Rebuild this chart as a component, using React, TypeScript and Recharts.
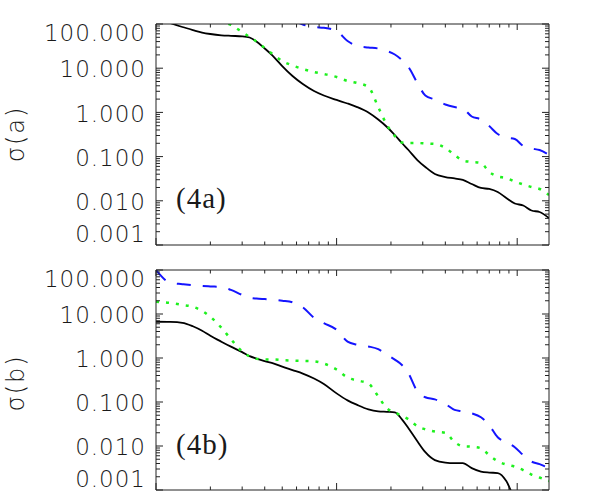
import { LineChart, Line, XAxis, YAxis } from "recharts";

// sample positions along the (log) x axis
const X = [
  1, 1.2, 1.4, 1.6, 1.8, 2, 2.3, 2.6, 3, 3.3, 3.6, 4, 4.5, 5, 5.7, 6.5, 7.5, 8.5,
  10, 11.5, 13, 15, 17, 19, 21, 23, 25, 28, 31, 35, 40, 45, 50, 56, 63, 70, 78,
  87, 97, 108, 120, 133, 150,
];

// panel (4a)
const A_BLACK = [
  137, 105, 85.5, 73, 64, 59.4, 55.5, 54, 52.7, 49.5, 40.2, 27.9, 17.9, 11.2,
  6.66, 4.39, 3.05, 2.41, 1.91, 1.59, 1.32, 0.995, 0.69, 0.468, 0.308, 0.203,
  0.141, 0.0837, 0.0582, 0.0404, 0.0345, 0.032, 0.0296, 0.024, 0.0195, 0.0185,
  0.0158, 0.0116, 0.0087, 0.00783, 0.00603, 0.00558, 0.00408,
];
const A_GREEN = [
  587, 408, 298, 230, 187, 152, 117, 94.9, 65.9, 50.8, 40.2, 28.6, 19.9, 14.6,
  11.5, 9.59, 8.2, 7.39, 6.32, 5.13, 4.62, 3.76, 1.32, 0.519, 0.292, 0.208,
  0.203, 0.203, 0.198, 0.193, 0.157, 0.109, 0.0816, 0.0755, 0.0716, 0.0449,
  0.0355, 0.0328, 0.0273, 0.0234, 0.0205, 0.0185, 0.0135,
];
const A_BLUE = [
  null, null, null, null, null, null, null, null, null, null, null, null, null,
  null, 123, 97.5, 85.5, 82, 69.5, 41.2, 31.8, 29.4, 27.9, 24.5, 20.4, 15.3,
  10.6, 4.62, 2.41, 1.96, 1.51, 1.32, 1.22, 0.807, 0.69, 0.492, 0.324, 0.27,
  0.25, 0.174, 0.152, 0.141, 0.109,
];

// panel (4b)
const B_BLACK = [
  6.67, 6.6, 6.32, 5.27, 4.17, 3.21, 2.35, 1.81, 1.36, 1.1, 0.969, 0.851, 0.747,
  0.638, 0.532, 0.443, 0.342, 0.257, 0.157, 0.109, 0.0859, 0.068, 0.0612,
  0.0597, 0.0582, 0.0404, 0.0253, 0.0128, 0.00724, 0.00478, 0.00419, 0.00408,
  0.00408, 0.00315, 0.00262, 0.00249, 0.00243, 0.0016, 0.0006, 0.0003, 0.00015,
  0.0001, 0.00007,
];
const B_GREEN = [
  18.9, 17.9, 16.1, 14.6, 11.8, 8.64, 4.88, 2.68, 1.4, 1.08, 0.955, 0.93, 0.925,
  0.896, 0.873, 0.859, 0.837, 0.747, 0.547, 0.36, 0.308, 0.264, 0.134, 0.0716,
  0.0582, 0.0485, 0.0404, 0.0281, 0.024, 0.0213, 0.02, 0.0122, 0.00989,
  0.00964, 0.0089, 0.0062, 0.00453, 0.00378, 0.0034, 0.00283, 0.00224,
  0.00192, 0.0016,
];
const B_BLUE = [
  100, 51.3, 47.7, 45.1, 43.5, 42.4, 41.2, 35.3, 27.2, 23.5, 22.4, 21.8, 21.2,
  20.1, 18.4, 14.2, 8.2, 6.17, 4.39, 2.35, 2.01, 1.83, 1.59, 1.19, 0.92, 0.691,
  0.444, 0.174, 0.128, 0.115, 0.0906, 0.0662, 0.0612, 0.0552, 0.0449, 0.0296,
  0.0158, 0.0122, 0.0094, 0.0062, 0.00442, 0.00387, 0.00315,
];

const Y_MAJOR = [0.001, 0.01, 0.1, 1, 10, 100];
const Y_LABELS = ["0.001", "0.010", "0.100", "1.000", "10.000", "100.000"];
const X_MAJOR = [1, 10, 100];
const MINOR = [2, 3, 4, 5, 6, 7, 8, 9];

const Y_TICKS = Y_MAJOR.flatMap((d, i) =>
  i === Y_MAJOR.length - 1 ? [d] : [d, ...MINOR.map((m) => m * d)]
);
const X_TICKS = X_MAJOR.flatMap((d) => [d, ...MINOR.map((m) => m * d)]).filter(
  (v) => v <= 150
);

const AXIS = "#222";
const TEXT = "#1a1a1a";
const isMajor = (list: number[], v: number) =>
  list.findIndex((m) => Math.abs(m - v) / m < 1e-6);

function LeftTick({ x, y, payload }: any) {
  const i = isMajor(Y_MAJOR, payload.value);
  // end labels sit inside the frame, like the original
  const dy = i === Y_MAJOR.length - 1 ? 9 : i === 0 ? -11 : 1;
  return (
    <g>
      <line x1={x} x2={x + (i >= 0 ? 7 : 4)} y1={y} y2={y} stroke={AXIS} />
      {i >= 0 && (
        <text
          x={x - 10}
          y={y + dy}
          dy="0.36em"
          textAnchor="end"
          fontFamily="DejaVu Sans"
          fontWeight={300}
          fontSize={23}
          letterSpacing={1}
          fill={TEXT}
        >
          {Y_LABELS[i]}
        </text>
      )}
    </g>
  );
}

function RightTick({ x, y, payload }: any) {
  const i = isMajor(Y_MAJOR, payload.value);
  return <line x1={x} x2={x - (i >= 0 ? 7 : 4)} y1={y} y2={y} stroke={AXIS} />;
}

function TopTick({ x, y, payload }: any) {
  const i = isMajor(X_MAJOR, payload.value);
  return <line x1={x} x2={x} y1={y} y2={y + (i >= 0 ? 6 : 3.5)} stroke={AXIS} />;
}

function BottomTick({ x, y, payload }: any) {
  const i = isMajor(X_MAJOR, payload.value);
  return <line x1={x} x2={x} y1={y} y2={y - (i >= 0 ? 7 : 3.5)} stroke={AXIS} />;
}

function Panel({ black, green, blue, height, bottom }: any) {
  const rows = X.map((x, i) => ({ x, black: black[i], green: green[i], blue: blue[i] }));
  const xProps = {
    dataKey: "x",
    type: "number" as const,
    scale: "log" as const,
    domain: [1, 150],
    allowDataOverflow: true,
    ticks: X_TICKS,
    interval: 0,
    height: 1,
    tickSize: 0,
    tickMargin: 0,
    tickLine: false,
    axisLine: { stroke: AXIS },
  };
  const yProps = {
    type: "number" as const,
    scale: "log" as const,
    domain: [0.001, 100],
    allowDataOverflow: true,
    ticks: Y_TICKS,
    interval: 0,
    width: 1,
    tickSize: 0,
    tickMargin: 0,
    tickLine: false,
    axisLine: { stroke: AXIS },
  };
  return (
    <LineChart
      width={596}
      height={height}
      data={rows}
      margin={{ top: 23, right: 46, bottom, left: 155 }}
    >
      <XAxis xAxisId="b" orientation="bottom" {...xProps} tick={<BottomTick />} />
      <XAxis xAxisId="t" orientation="top" {...xProps} tick={<TopTick />} />
      <YAxis yAxisId="l" orientation="left" {...yProps} tick={<LeftTick />} />
      <YAxis yAxisId="r" orientation="right" {...yProps} tick={<RightTick />} />
      <Line
        xAxisId="b"
        yAxisId="l"
        dataKey="black"
        type="monotone"
        stroke="#000"
        strokeWidth={1.8}
        dot={false}
        isAnimationActive={false}
      />
      <Line
        xAxisId="t"
        yAxisId="r"
        dataKey="green"
        type="monotone"
        stroke="#1ef01e"
        strokeWidth={2.5}
        strokeDasharray="3 7"
        dot={false}
        isAnimationActive={false}
      />
      <Line
        xAxisId="b"
        yAxisId="l"
        dataKey="blue"
        type="monotone"
        stroke="#1414ff"
        strokeWidth={2}
        strokeDasharray="14 12"
        dot={false}
        isAnimationActive={false}
      />
    </LineChart>
  );
}

export default function App() {
  return (
    <div
      style={{
        position: "absolute",
        left: 0,
        top: 0,
        width: 596,
        height: 491,
        overflow: "hidden",
        background: "#fff",
      }}
    >
      <div style={{ position: "absolute", left: 0, top: 0 }}>
        <Panel black={A_BLACK} green={A_GREEN} blue={A_BLUE} height={250} bottom={4} />
      </div>
      <div style={{ position: "absolute", left: 0, top: 246 }}>
        <Panel black={B_BLACK} green={B_GREEN} blue={B_BLUE} height={250} bottom={5} />
      </div>
      <svg
        width={596}
        height={491}
        style={{ position: "absolute", left: 0, top: 0, pointerEvents: "none" }}
      >
        <text
          transform="translate(24,134) rotate(-90)"
          textAnchor="middle"
          fontFamily="DejaVu Sans"
          fontWeight={300}
          fontSize={24}
          letterSpacing={2}
          fill={TEXT}
        >
          σ(a)
        </text>
        <text
          transform="translate(24,383) rotate(-90)"
          textAnchor="middle"
          fontFamily="DejaVu Sans"
          fontWeight={300}
          fontSize={24}
          letterSpacing={2}
          fill={TEXT}
        >
          σ(b)
        </text>
        <text x={176} y={208} fontFamily="Liberation Serif" fontSize={29} letterSpacing={1} fill={TEXT}>
          (4a)
        </text>
        <text x={176} y={454} fontFamily="Liberation Serif" fontSize={29} letterSpacing={1} fill={TEXT}>
          (4b)
        </text>
      </svg>
    </div>
  );
}
